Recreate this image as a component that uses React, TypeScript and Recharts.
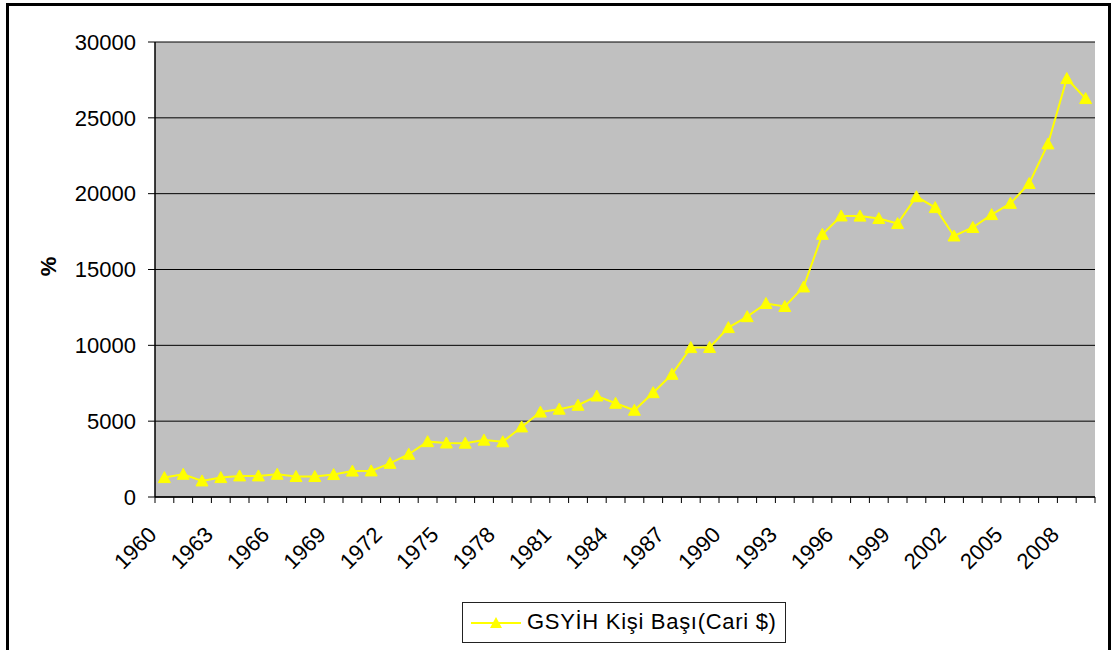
import React from 'react';
import { ComposedChart, Line, XAxis, YAxis, CartesianGrid, Legend } from 'recharts';

const years = [
  '1960', '1961', '1962', '1963', '1964', '1965', '1966', '1967', '1968', '1969',
  '1970', '1971', '1972', '1973', '1974', '1975', '1976', '1977', '1978', '1979',
  '1980', '1981', '1982', '1983', '1984', '1985', '1986', '1987', '1988', '1989',
  '1990', '1991', '1992', '1993', '1994', '1995', '1996', '1997', '1998', '1999',
  '2000', '2001', '2002', '2003', '2004', '2005', '2006', '2007', '2008', '2009',
];

const gdpPerCapita = [
  1280, 1500, 1060, 1280, 1390, 1390, 1500, 1350, 1350, 1480,
  1710, 1720, 2220, 2820, 3650, 3560, 3550, 3750, 3640, 4620,
  5600, 5790, 6050, 6660, 6180, 5720, 6880, 8090, 9850, 9860,
  11170, 11890, 12760, 12560, 13850, 17320, 18530, 18520, 18360, 18030,
  19800, 19080, 17210, 17770, 18620, 19360, 20670, 23280, 27590, 26270,
];

const yTicks = [0, 5000, 10000, 15000, 20000, 25000, 30000];
const xLabelYears = ['1960', '1963', '1966', '1969', '1972', '1975', '1978', '1981', '1984', '1987', '1990', '1993', '1996', '1999', '2002', '2005', '2008'];
const seriesName = 'GSYİH Kişi Başı(Cari $)';
const yAxisTitle = '%';

const data = years.map((year, i) => ({ year, value: gdpPerCapita[i] }));

const W = 1111;
const H = 650;
const MARGIN = { top: 42, right: 16, left: 0, bottom: 93 };
const Y_AXIS_W = 155;
const X_AXIS_H = 60;
const BAND = (W - MARGIN.left - MARGIN.right - Y_AXIS_W) / years.length;
const FONT = '"Liberation Sans", Arial, sans-serif';
const YELLOW = '#FFFF00';

const Triangle = (props: any) => {
  const { cx, cy } = props;
  if (cx == null || cy == null) return null;
  return (
    <polygon
      points={`${cx},${cy - 6} ${cx - 6},${cy + 5} ${cx + 6},${cy + 5}`}
      fill={YELLOW}
      stroke={YELLOW}
      strokeWidth={1}
    />
  );
};

const XTick = (props: any) => {
  const { x, y, payload, index } = props;
  const half = payload && payload.offset ? payload.offset : BAND / 2;
  const showLabel = xLabelYears.includes(String(payload.value));
  const ax = x - 6.5;
  const ay = y + 39;
  return (
    <g>
      <line x1={x - half} y1={y} x2={x - half} y2={y + 6} stroke="#000" strokeWidth={1} />
      {index === years.length - 1 && (
        <line x1={x + half} y1={y} x2={x + half} y2={y + 6} stroke="#000" strokeWidth={1} />
      )}
      {showLabel && (
        <text
          x={ax}
          y={ay}
          textAnchor="end"
          fontSize={22}
          fontFamily={FONT}
          fill="#000"
          transform={`rotate(-45, ${ax}, ${ay})`}
        >
          {payload.value}
        </text>
      )}
    </g>
  );
};

const YTitle = (props: any) => {
  const vb = props.viewBox || { x: 0, y: 42, width: Y_AXIS_W, height: 455 };
  const tx = vb.x + 56;
  const ty = vb.y + vb.height / 2 - 3;
  return (
    <text
      x={tx}
      y={ty}
      textAnchor="middle"
      fontSize={22}
      fontWeight="bold"
      fontFamily={FONT}
      fill="#000"
      transform={`rotate(-90, ${tx}, ${ty})`}
    >
      {yAxisTitle}
    </text>
  );
};

const LegendBox = () => (
  <div
    style={{
      boxSizing: 'border-box',
      width: 324,
      height: 41,
      border: '1px solid #222',
      background: '#fff',
      position: 'relative',
      fontFamily: FONT,
    }}
  >
    <svg width={60} height={39} style={{ position: 'absolute', left: 8, top: 0 }}>
      <line x1={0} y1={20} x2={50} y2={20} stroke={YELLOW} strokeWidth={2} />
      <polygon points="25,14 19,25 31,25" fill={YELLOW} />
    </svg>
    <span
      style={{
        position: 'absolute',
        left: 64,
        top: 6,
        fontSize: 22,
        lineHeight: '26px',
        color: '#000',
        whiteSpace: 'nowrap',
        letterSpacing: 0.7,
      }}
    >
      {seriesName}
    </span>
  </div>
);

export default function App() {
  return (
    <div style={{ position: 'absolute', left: 0, top: 0, width: W, height: H, overflow: 'hidden', background: '#fff' }}>
      <div
        style={{
          position: 'absolute',
          left: 6,
          top: 3,
          width: W - 6,
          height: H + 20,
          boxSizing: 'border-box',
          border: '3px solid #000',
        }}
      />
      <div style={{ position: 'absolute', left: 0, top: 0 }}>
        <ComposedChart width={W} height={H} data={data} margin={MARGIN}>
          <CartesianGrid
            vertical={false}
            stroke="#000"
            strokeWidth={1}
            fill="#C0C0C0"
            fillOpacity={1}
          />
          <XAxis
            dataKey="year"
            type="category"
            scale="band"
            interval={0}
            height={X_AXIS_H}
            tickLine={false}
            tickSize={0}
            tickMargin={0}
            axisLine={{ stroke: '#000', strokeWidth: 1.5 }}
            tick={<XTick />}
          />
          <XAxis
            xAxisId="top"
            dataKey="year"
            orientation="top"
            height={0}
            tick={false}
            tickLine={false}
            axisLine={{ stroke: '#808080', strokeWidth: 2 }}
          />
          <YAxis
            type="number"
            domain={[0, 30000]}
            ticks={yTicks}
            interval={0}
            width={Y_AXIS_W}
            tickSize={7}
            tickMargin={12}
            tickLine={{ stroke: '#000' }}
            axisLine={{ stroke: '#000', strokeWidth: 1.5 }}
            tick={{ fontSize: 22, fontFamily: FONT, fill: '#000' }}
            label={<YTitle />}
          />
          <YAxis
            yAxisId="right"
            orientation="right"
            type="number"
            domain={[0, 30000]}
            width={0}
            tick={false}
            tickLine={false}
            axisLine={{ stroke: '#808080', strokeWidth: 2 }}
          />
          <Legend
            layout="horizontal"
            verticalAlign="middle"
            align="center"
            content={<LegendBox />}
            wrapperStyle={{ position: 'absolute', left: 462, top: 602, width: 324, height: 41, right: 'auto', bottom: 'auto' }}
          />
          <Line
            type="linear"
            dataKey="value"
            name={seriesName}
            stroke={YELLOW}
            strokeWidth={2}
            dot={<Triangle />}
            activeDot={false}
            isAnimationActive={false}
          />
        </ComposedChart>
      </div>
    </div>
  );
}
